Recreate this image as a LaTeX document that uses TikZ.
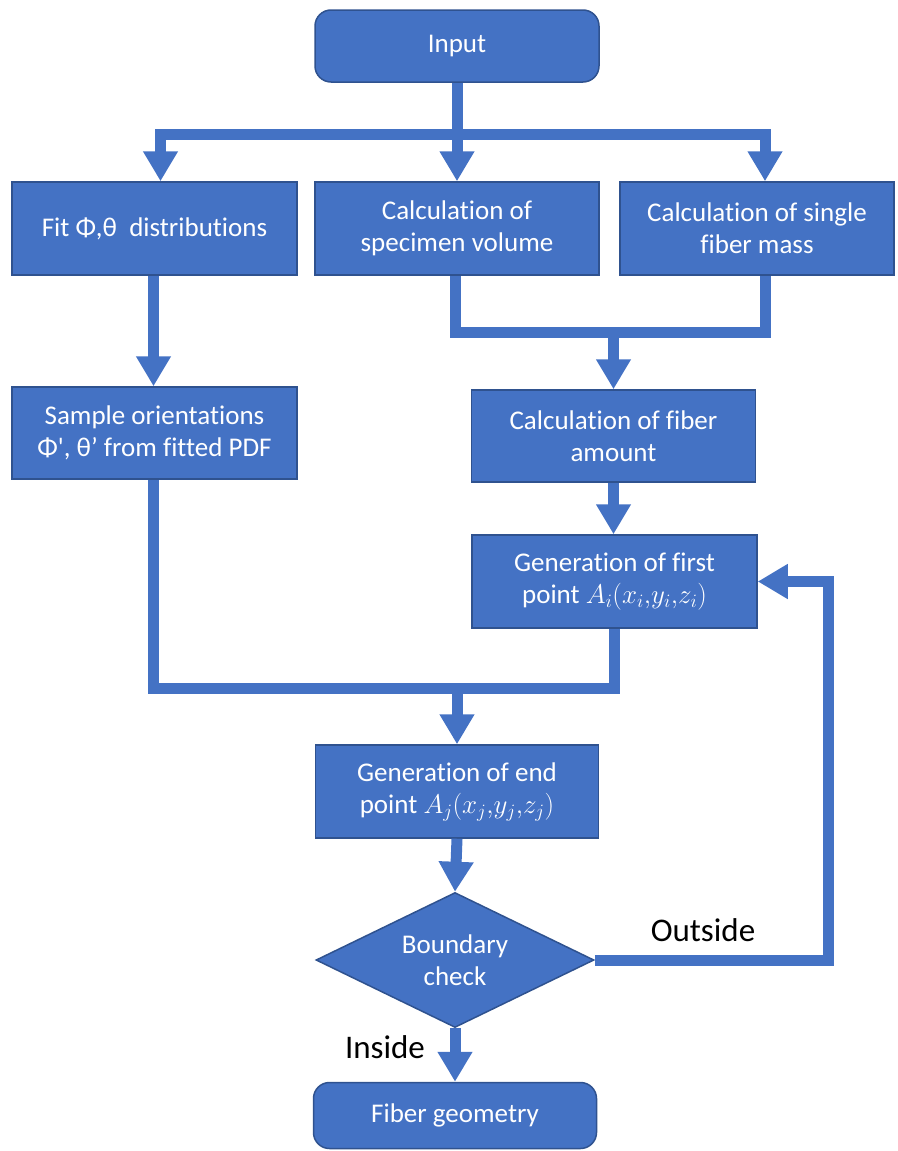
\RequirePackage{fix-cm}
\documentclass[tikz,border=0pt]{standalone}
\usepackage{fontspec}
\setmainfont{Carlito}[Ligatures=NoCommon]
\usepackage{xcolor}
\usepackage{tikz}
\usetikzlibrary{shapes.geometric,arrows.meta}
\definecolor{ofblue}{HTML}{4472C4}
\definecolor{ofedge}{HTML}{2F528F}

\begin{document}
\begin{tikzpicture}[x=1pt,y=-1pt,
procbox/.style={draw=ofedge, line width=1.5pt, fill=ofblue, text=white, font=\fontsize{27}{32}\selectfont, minimum height=93, inner sep=4, align=center},
termbox/.style={procbox, rounded corners=16},
decbox/.style={procbox, diamond, aspect=2.07, minimum width=278, minimum height=135, inner sep=0},
flowline/.style={draw=ofblue, line width=11pt},
flowarrow/.style={flowline, -{Triangle[width=33pt,length=30pt]}},
lbl/.style={text=black, font=\fontsize{33}{38}\selectfont}]
\useasboundingbox (0,0) rectangle (897,1151);
%boxes
\node[termbox, minimum width=284, minimum height=72] (input) at (457,46) {Input};
\node[procbox, minimum width=285] (fit) at (154.5,228.5) {Fit Φ,θ\ \ distributions};
\node[procbox, minimum width=284] (vol) at (457,228.5) {Calculation of\\specimen volume};
\node[procbox, minimum width=274] (mass) at (757,228.5) {Calculation of single\\fiber mass};
\node[procbox, minimum width=285, minimum height=92] (sample) at (154.5,433) {Sample orientations\\Φ\textquotesingle, θ’ from fitted PDF};
\node[procbox, minimum width=284, minimum height=92] (amount) at (613.5,436) {Calculation of fiber\\amount};
\node[procbox, minimum width=285] (first) at (614.5,581.5) {Generation of first\\point $A_i(x_i{,}y_i{,}z_i)$};
\node[procbox, minimum width=283] (endpt) at (457,791.5) {Generation of end\\point $A_j(x_j{,}y_j{,}z_j)$};
\node[decbox] (bcheck) at (455,960) {Boundary\\check};
\node[termbox, minimum width=283, minimum height=66] (geom) at (455,1115.5) {Fiber geometry};
\node[lbl] (outlbl) at (703,930) {Outside};
\node[lbl] (inlbl) at (385,1047) {Inside};
%junctions
\coordinate (split) at (457,134);
\coordinate (join1) at (613.5,332);
\coordinate (join2) at (457,688);
\coordinate (loop) at (828,960);
%connectors
\draw[flowline] (input.south) -- (split);
\draw[flowarrow] (split) -| ([xshift=6pt]fit.north);
\draw[flowarrow] (split) -- (vol.north);
\draw[flowarrow] (split) -| ([xshift=8pt]mass.north);
\draw[flowarrow] ([xshift=-1pt]fit.south) -- ([xshift=-1pt]sample.north);
\draw[flowline] ([xshift=-2pt]vol.south) |- (join1) -| ([xshift=8pt]mass.south);
\draw[flowarrow] (join1) -- (amount.north);
\draw[flowarrow] (amount.south) -- (amount.south |- first.north);
\draw[flowline] ([xshift=-1pt]sample.south) |- (join2) -| (first.south);
\draw[flowarrow] (join2) -- (endpt.north);
\draw[flowarrow] (endpt.south) -- (bcheck.north);
\draw[flowarrow] (bcheck.south) -- (geom.north);
\draw[flowarrow] (bcheck.east) -- (loop) |- (first.east);
\end{tikzpicture}
\end{document}
